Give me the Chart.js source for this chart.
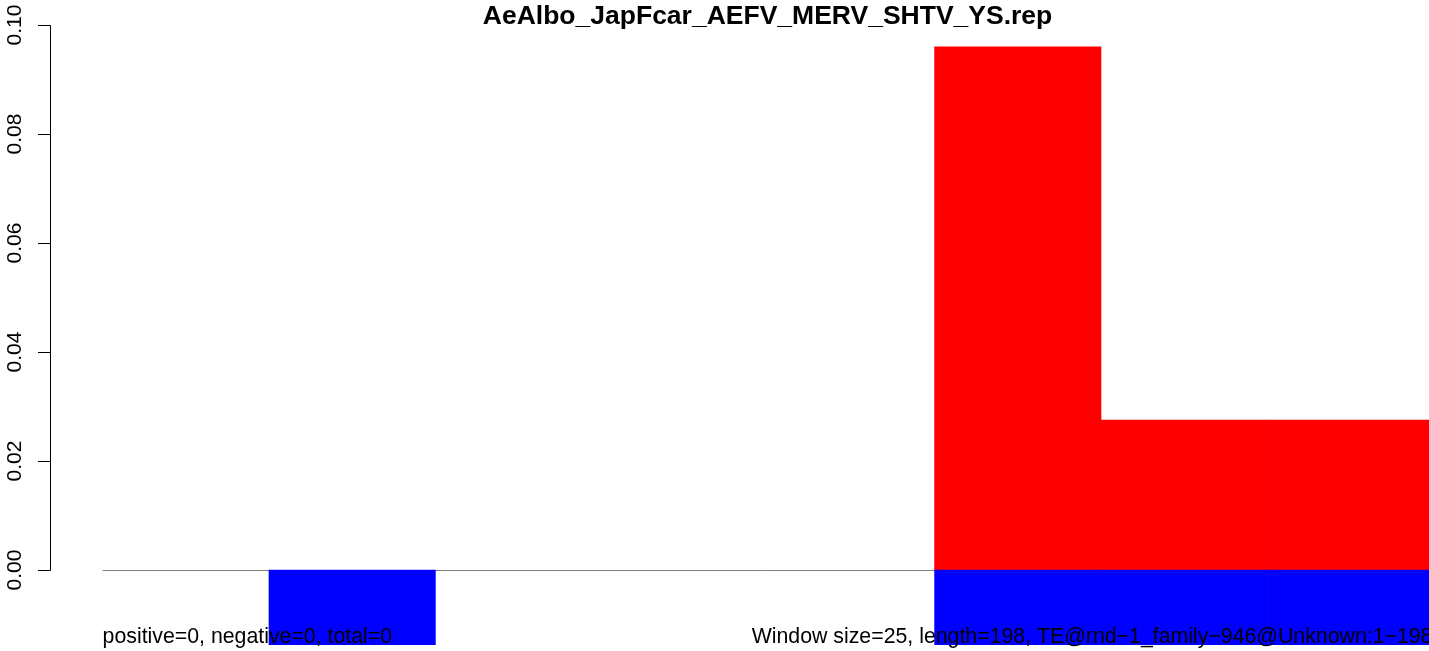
<!DOCTYPE html>
<html>
<head>
<meta charset="utf-8">
<script src="https://cdn.jsdelivr.net/npm/chart.js@4/dist/chart.umd.min.js"></script>
<style>
  html, body { margin: 0; padding: 0; background: #ffffff; }
  #wrap { width: 1429px; height: 651px; }
</style>
</head>
<body>
<div id="wrap"><canvas id="c" width="1429" height="651"></canvas></div>
<script>
// ---- data ----
const chartTitle = "AeAlbo_JapFcar_AEFV_MERV_SHTV_YS.rep";
const windowSize = 25;
const binStarts = [0, 25, 50, 75, 100, 125, 150, 175];
const positiveValues = [0, 0, 0, 0, 0, 0.096, 0.0275, 0.0275];
const negativeValues = [0, -0.0138, 0, 0, 0, -0.0138, -0.0138, -0.0138];
const yTickValues = [0, 0.02, 0.04, 0.06, 0.08, 0.10];
const yTickLabels = ["0.00", "0.02", "0.04", "0.06", "0.08", "0.10"];
const xEdges = [0, 25, 50, 75, 100, 125, 150, 175, 200];
const footLeft = "positive=0, negative=0, total=0";
const footRight = "Window size=25, length=198, TE@rnd\u22121_family\u2212946@Unknown:1\u2212198";

const FONT = '"Liberation Sans", Arial, Helvetica, sans-serif';

const posData = binStarts.map((s, i) => ({ x: s + windowSize / 2, y: positiveValues[i] === 0 ? null : positiveValues[i] }));
const negData = binStarts.map((s, i) => ({ x: s + windowSize / 2, y: negativeValues[i] === 0 ? null : negativeValues[i] }));

const decor = {
  id: 'decor',
  beforeDatasetsDraw(chart) {
    const ctx = chart.ctx, xs = chart.scales.x, ys = chart.scales.y;
    const y0 = Math.round(ys.getPixelForValue(0)) + 0.5;
    ctx.save();
    ctx.strokeStyle = '#808080';
    ctx.lineWidth = 1;
    ctx.beginPath();
    ctx.moveTo(xs.getPixelForValue(0), y0);
    ctx.lineTo(chart.chartArea.right, y0);
    ctx.stroke();
    ctx.restore();
  },
  afterDraw(chart) {
    const ctx = chart.ctx, xs = chart.scales.x, ys = chart.scales.y;
    ctx.save();
    // y axis line and ticks
    const ax = 50.5;
    const yTop = ys.getPixelForValue(yTickValues[yTickValues.length - 1]);
    const yBot = ys.getPixelForValue(yTickValues[0]);
    ctx.strokeStyle = '#000';
    ctx.lineWidth = 1;
    ctx.beginPath();
    ctx.moveTo(ax, Math.round(yTop) + 0.5);
    ctx.lineTo(ax, Math.round(yBot) + 0.5);
    ys.ticks.forEach(t => {
      const py = Math.round(ys.getPixelForValue(t.value)) + 0.5;
      ctx.moveTo(ax, py);
      ctx.lineTo(38, py);
    });
    ctx.stroke();
    // y tick labels (rotated)
    ctx.fillStyle = '#000';
    ctx.font = '21px ' + FONT;
    ctx.textAlign = 'center';
    ctx.textBaseline = 'alphabetic';
    ys.ticks.forEach((t, i) => {
      const py = ys.getPixelForValue(t.value);
      ctx.save();
      ctx.translate(20.5, py);
      ctx.rotate(-Math.PI / 2);
      ctx.fillText(t.label, 0, 0);
      ctx.restore();
    });
    // title
    const x0 = xs.getPixelForValue(0);
    const xr = xs.getPixelForValue(199.8);
    ctx.font = 'bold 26.5px ' + FONT;
    ctx.textAlign = 'center';
    ctx.fillText(chartTitle, (x0 + xr) / 2, 23.5);
    // footer texts
    ctx.font = '21.3px ' + FONT;
    ctx.textAlign = 'left';
    ctx.fillText(footLeft, x0, 643);
    ctx.textAlign = 'right';
    ctx.fillText(footRight, xr, 643);
    ctx.restore();
  }
};

new Chart(document.getElementById('c'), {
  type: 'bar',
  data: {
    datasets: [
      { label: 'negative', data: negData, backgroundColor: '#0000ff', borderWidth: 0,
        barPercentage: 1, categoryPercentage: 1, grouped: false },
      { label: 'positive', data: posData, backgroundColor: '#ff0000', borderWidth: 0,
        barPercentage: 1, categoryPercentage: 1, grouped: false }
    ]
  },
  options: {
    responsive: false,
    animation: false,
    events: [],
    layout: { padding: { left: 50, right: 0, top: 25, bottom: 6 } },
    plugins: { legend: { display: false }, title: { display: false }, tooltip: { enabled: false } },
    scales: {
      x: {
        type: 'linear', display: false, offset: false, min: -7.9, max: 199.28,
        grid: { offset: false },
        afterBuildTicks: s => { s.ticks = xEdges.map(v => ({ value: v })); }
      },
      y: {
        type: 'linear', display: false, min: -0.01376, max: 0.10,
        afterBuildTicks: s => { s.ticks = yTickValues.map(v => ({ value: v })); },
        ticks: { callback: (v, i) => yTickLabels[i] }
      }
    }
  },
  plugins: [decor]
});
</script>
</body>
</html>
